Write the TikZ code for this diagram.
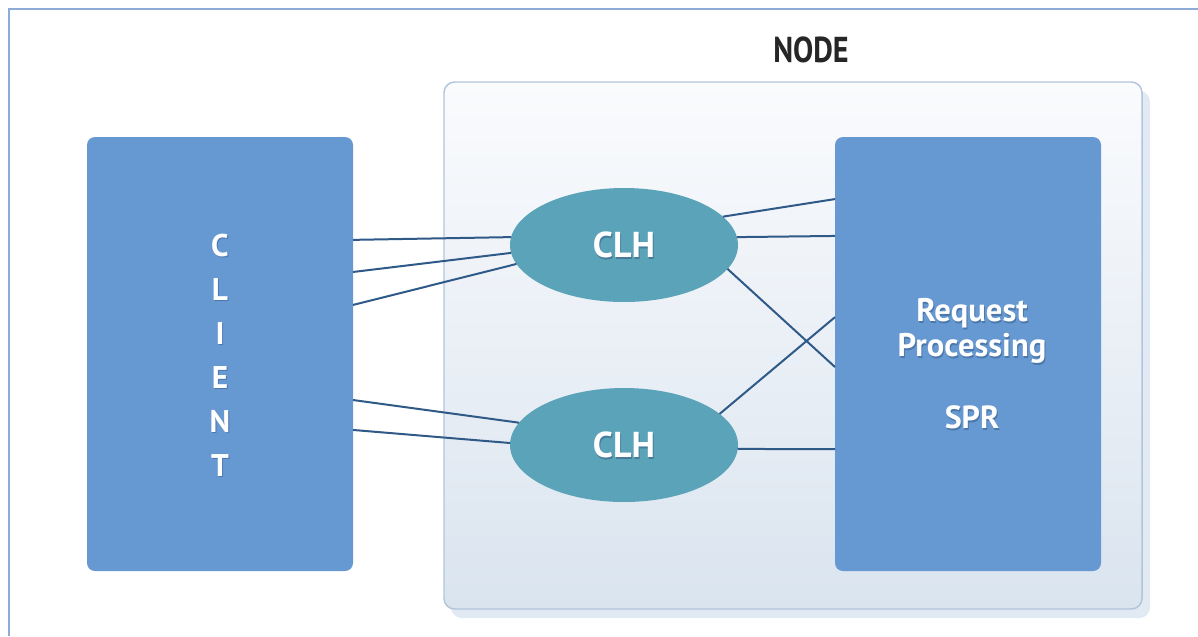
\documentclass[tikz,border=0pt]{standalone}
\usepackage{fontspec}
\setmainfont{PT Sans}
\newfontfamily\titlefont[FakeStretch=0.84]{PT Sans}
\usetikzlibrary{calc,shapes.geometric,shadows}

\definecolor{frameblue}{HTML}{8EAAD6}
\definecolor{boxblue}{HTML}{6699D2}
\definecolor{clhteal}{HTML}{5BA3B8}
\definecolor{wireblue}{HTML}{2F5A88}
\definecolor{nodetop}{HTML}{FAFBFD}
\definecolor{nodebottom}{HTML}{DAE4EF}
\definecolor{nodeedge}{HTML}{B2C5DB}
\definecolor{nodeshade}{HTML}{E1E9F3}
\definecolor{textglow}{HTML}{2E4E78}

\tikzset{
  bigbox/.style={draw=none, fill=boxblue, rounded corners=6pt,
    minimum width=199.5pt, minimum height=325.5pt, inner sep=0pt, outer sep=0pt},
  clh/.style={ellipse, draw=none, fill=clhteal, minimum width=171pt,
    minimum height=85.5pt, inner sep=0pt, outer sep=0pt},
  wire/.style={draw=wireblue, line width=1.5pt},
  whitetxt/.style={text=white, font=\bfseries},
  glowtxt/.style={text=textglow, opacity=0.45, font=\bfseries},
}

\begin{document}
\begin{tikzpicture}[x=0.75pt, y=-0.75pt]
  \useasboundingbox (0,0) rectangle (1198,636);
  \fill[white] (0,0) rectangle (1198,636);

  % outer frame (top and left edges)
  \coordinate (frameTR) at (1198,9);
  \coordinate (frameTL) at (9,9);
  \coordinate (frameBL) at (9,636);
  \draw[frameblue, line width=1.8pt] (frameTR) -- (frameTL) -- (frameBL);

  % NODE container with its drop shadow
  \fill[nodeshade, rounded corners=8pt] (451,91) rectangle (1150,618);
  \shade[top color=nodetop, bottom color=nodebottom, rounded corners=8pt]
    (444,82) rectangle (1142,609);
  \draw[nodeedge, line width=1.1pt, rounded corners=8pt]
    (444,82) rectangle (1142,609);
  \node[font=\titlefont\bfseries\fontsize{27}{30}\selectfont, text=black!85]
    (nodetitle) at (811,50) {NODE};

  % client and request processing blocks
  \node[bigbox] (client) at (220,354) {};
  \node[bigbox] (spr) at (968,354) {};

  % connection handlers
  \node[clh] (clh1) at (624,245) {};
  \node[clh] (clh2) at (624,445) {};

  % labels (a soft dark copy underneath gives the glow)
  \node[glowtxt, align=center, font=\bfseries\fontsize{23.5}{33}\selectfont]
    at ([shift={(1,1.5)}]220,355) {C\\L\\I\\E\\N\\T};
  \node[whitetxt, align=center, font=\bfseries\fontsize{23.5}{33}\selectfont]
    (clientlbl) at (220,355) {C\\L\\I\\E\\N\\T};

  \node[glowtxt, font=\bfseries\fontsize{27}{30}\selectfont]
    at ([shift={(1,1.5)}]clh1.center) {CLH};
  \node[whitetxt, font=\bfseries\fontsize{27}{30}\selectfont]
    (clh1lbl) at (clh1.center) {CLH};
  \node[glowtxt, font=\bfseries\fontsize{27}{30}\selectfont]
    at ([shift={(1,1.5)}]clh2.center) {CLH};
  \node[whitetxt, font=\bfseries\fontsize{27}{30}\selectfont]
    (clh2lbl) at (clh2.center) {CLH};

  \node[glowtxt, align=center, font=\bfseries\fontsize{24.5}{26.3}\selectfont]
    at (973,332.5) {Request\\Processing};
  \node[whitetxt, align=center, font=\bfseries\fontsize{24.5}{26.3}\selectfont]
    (rplbl) at (972,331) {Request\\Processing};
  \node[glowtxt, font=\bfseries\fontsize{24}{26}\selectfont]
    at (973,419) {SPR};
  \node[whitetxt, font=\bfseries\fontsize{24}{26}\selectfont]
    (sprlbl) at (972,417.5) {SPR};

  % client to handlers
  \draw[wire] ($(client.north east)!0.237!(client.south east)$) -- (clh1.176);
  \draw[wire] ($(client.north east)!0.311!(client.south east)$) -- (clh1.184);
  \draw[wire] ($(client.north east)!0.387!(client.south east)$) -- (clh1.190.6);
  \draw[wire] ($(client.north east)!0.606!(client.south east)$) -- (clh2.168.3);
  \draw[wire] ($(client.north east)!0.675!(client.south east)$) -- (clh2.179);

  % handlers to request processing
  \draw[wire] (clh1.16) -- ($(spr.north west)!0.143!(spr.south west)$);
  \draw[wire] (clh1.4.5) -- ($(spr.north west)!0.228!(spr.south west)$);
  \draw[wire] (clh1.-13.6) -- ($(spr.north west)!0.530!(spr.south west)$);
  \draw[wire] (clh2.18) -- ($(spr.north west)!0.415!(spr.south west)$);
  \draw[wire] (clh2.-2) -- ($(spr.north west)!0.719!(spr.south west)$);
\end{tikzpicture}
\end{document}
